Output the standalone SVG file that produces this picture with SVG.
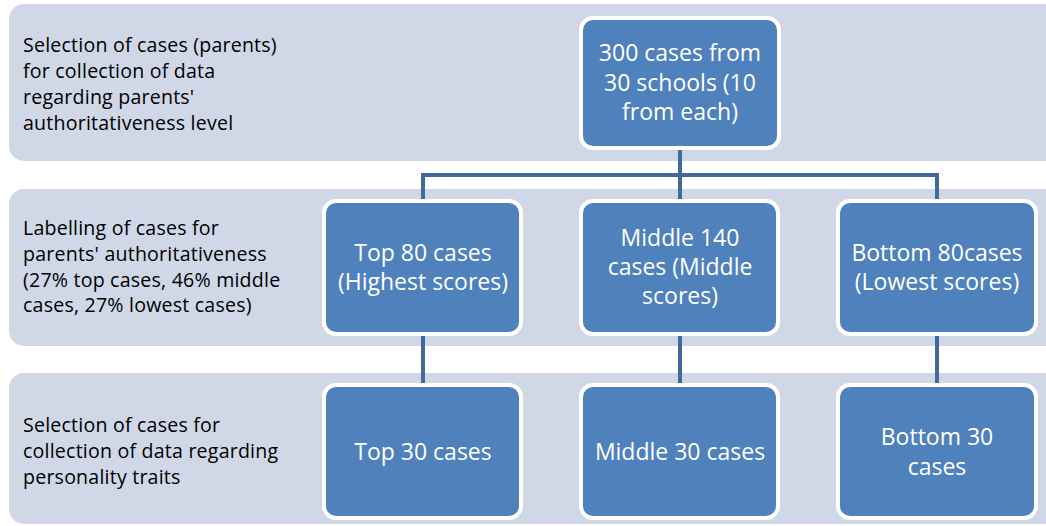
<svg xmlns="http://www.w3.org/2000/svg" width="1046" height="526" viewBox="0 0 1046 526">
<style>
.band{fill:#d0d8e8;}
.box{fill:#4f81bd;stroke:#ffffff;stroke-width:4;}
.bt{font-family:"Open Sans","Liberation Sans",sans-serif;font-size:23px;fill:#ffffff;text-anchor:middle;}
.lt{font-family:"Open Sans","Liberation Sans",sans-serif;font-size:19.6px;letter-spacing:0.2px;fill:#000000;}
.con{stroke:#41699a;stroke-width:4;fill:none;}
</style>
<rect width="1046" height="526" fill="#ffffff"/>
<g id="bands">
<rect class="band" x="9" y="4" width="1060" height="157" rx="15"/>
<rect class="band" x="9" y="189" width="1060" height="157" rx="15"/>
<rect class="band" x="9" y="373" width="1060" height="151" rx="15"/>
</g>
<g id="labels">
<text class="lt" x="23" y="52">Selection of cases (parents)</text>
<text class="lt" x="23" y="78">for collection of data</text>
<text class="lt" x="23" y="104">regarding parents'</text>
<text class="lt" x="23" y="130">authoritativeness level</text>
<text class="lt" x="23" y="235">Labelling of cases for</text>
<text class="lt" x="23" y="261">parents' authoritativeness</text>
<text class="lt" x="23" y="287">(27% top cases, 46% middle</text>
<text class="lt" x="23" y="312">cases, 27% lowest cases)</text>
<text class="lt" x="23" y="432">Selection of cases for</text>
<text class="lt" x="23" y="458">collection of data regarding</text>
<text class="lt" x="23" y="484">personality traits</text>
</g>
<g id="connectors">
<path class="con" d="M680 150 V175 M423 199 V175 H937 V199 M680 175 V199"/>
<path class="con" d="M423 336 V383 M680 336 V383 M937 336 V383"/>
</g>
<g id="n300">
<rect class="box" x="581" y="18" width="198" height="130" rx="12"/>
<text class="bt" x="680" y="61">300 cases from</text>
<text class="bt" x="680" y="91">30 schools (10</text>
<text class="bt" x="680" y="120">from each)</text>
</g>
<g id="top80">
<rect class="box" x="324" y="201" width="197" height="133" rx="12"/>
<text class="bt" x="423" y="261">Top 80 cases</text>
<text class="bt" x="423" y="290">(Highest scores)</text>
</g>
<g id="mid140">
<rect class="box" x="581" y="201" width="197" height="133" rx="12"/>
<text class="bt" x="680" y="246">Middle 140</text>
<text class="bt" x="680" y="275">cases (Middle</text>
<text class="bt" x="680" y="304">scores)</text>
</g>
<g id="bot80">
<rect class="box" x="838" y="201" width="198" height="133" rx="12"/>
<text class="bt" x="937" y="261">Bottom 80cases</text>
<text class="bt" x="937" y="290">(Lowest scores)</text>
</g>
<g id="top30">
<rect class="box" x="324" y="385" width="197" height="133" rx="12"/>
<text class="bt" x="423" y="460">Top 30 cases</text>
</g>
<g id="mid30">
<rect class="box" x="581" y="385" width="197" height="133" rx="12"/>
<text class="bt" x="680" y="460">Middle 30 cases</text>
</g>
<g id="bot30">
<rect class="box" x="838" y="385" width="198" height="133" rx="12"/>
<text class="bt" x="937" y="445">Bottom 30</text>
<text class="bt" x="937" y="475">cases</text>
</g>
</svg>
